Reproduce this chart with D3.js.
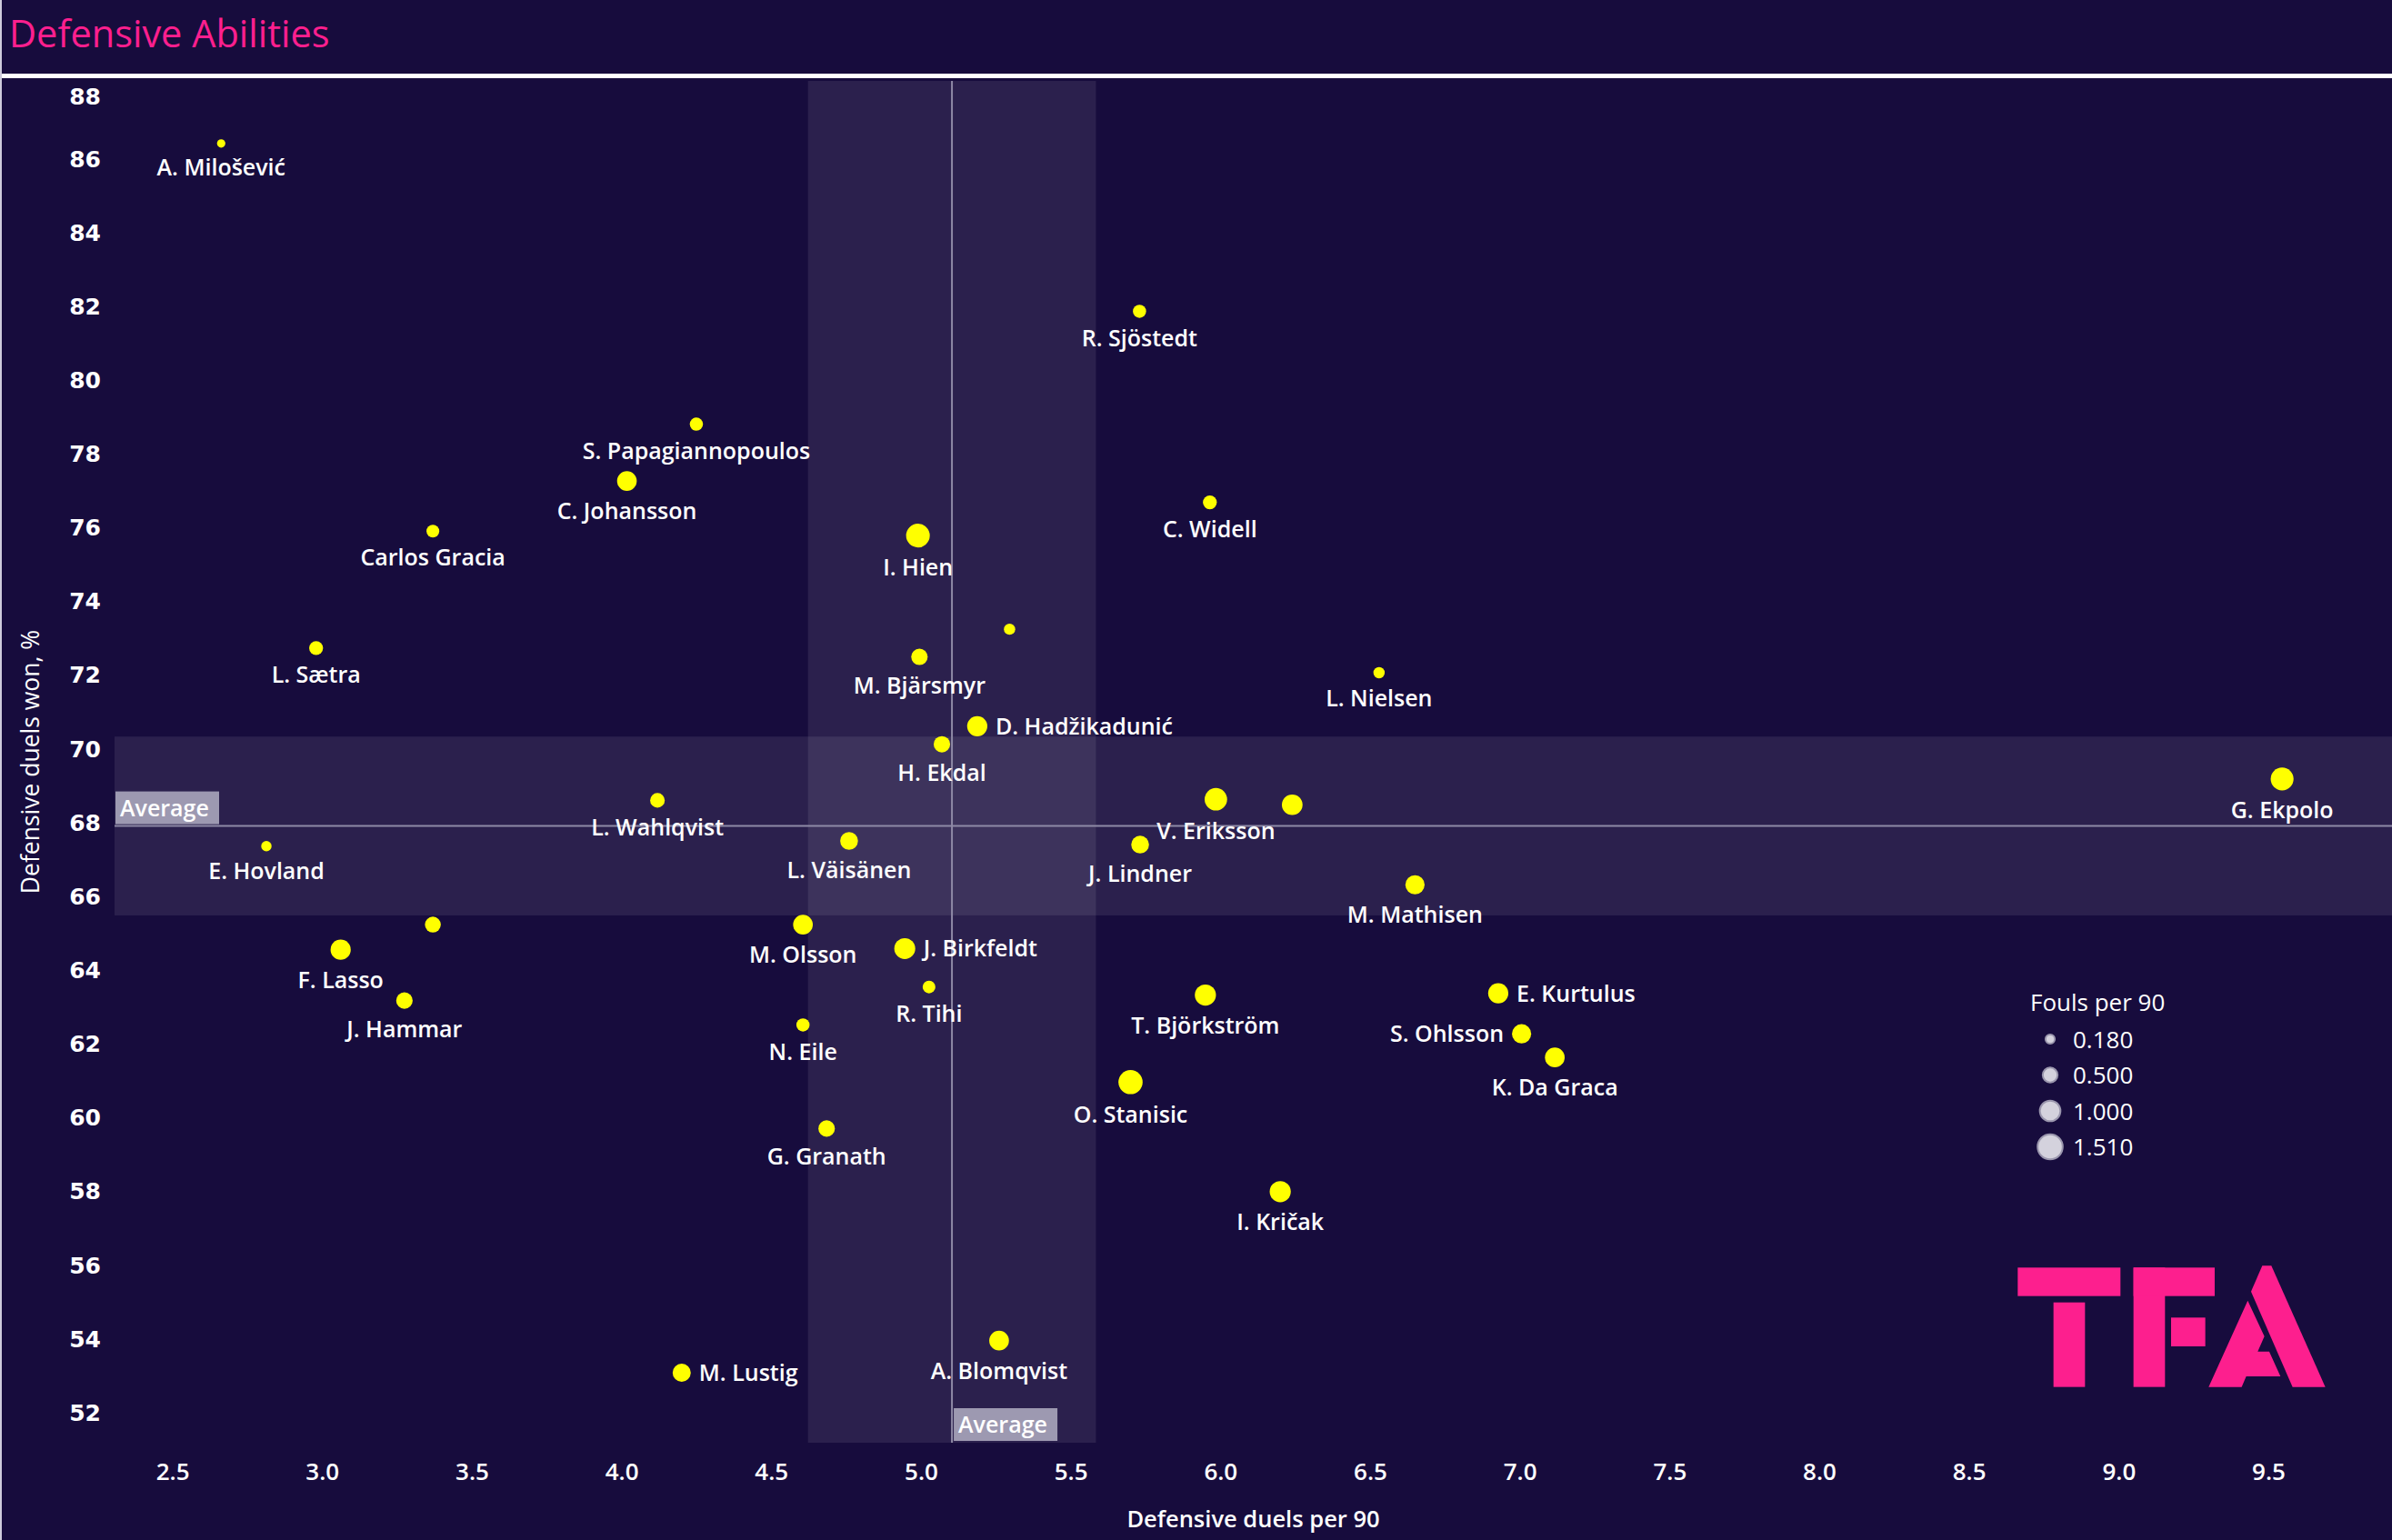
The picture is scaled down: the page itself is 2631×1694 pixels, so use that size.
<!DOCTYPE html>
<html>
<head>
<meta charset="utf-8">
<script src="https://cdn.jsdelivr.net/npm/d3@7"></script>
<style>
  html, body { margin: 0; padding: 0; background: #170c3d; }
  svg { display: block; }
</style>
</head>
<body>
<svg id="chart" width="2631" height="1694"></svg>
<script>
// ---------- DATA ----------
const players = [
  "A. Milošević", "R. Sjöstedt", "S. Papagiannopoulos", "C. Johansson", "Carlos Gracia",
  "I. Hien", "C. Widell", "", "L. Sætra", "M. Bjärsmyr",
  "L. Nielsen", "D. Hadžikadunić", "H. Ekdal", "G. Ekpolo", "L. Wahlqvist",
  "V. Eriksson", "", "E. Hovland", "L. Väisänen", "J. Lindner",
  "M. Mathisen", "F. Lasso", "J. Hammar", "", "M. Olsson",
  "J. Birkfeldt", "R. Tihi", "N. Eile", "T. Björkström", "E. Kurtulus",
  "S. Ohlsson", "K. Da Graca", "O. Stanisic", "G. Granath", "I. Kričak",
  "A. Blomqvist", "M. Lustig"
];
const duelsPer90 = [
  2.663, 5.730, 4.250, 4.018, 3.370,
  4.990, 5.965, 5.296, 2.980, 4.995,
  6.530, 5.188, 5.070, 9.546, 4.120,
  5.985, 6.240, 2.814, 4.760, 5.732,
  6.650, 3.062, 3.275, 3.370, 4.606,
  4.946, 5.027, 4.606, 5.950, 6.928,
  7.006, 7.117, 5.700, 4.685, 6.200,
  5.261, 4.201
];
const duelsWonPct = [
  86.41, 81.86, 78.80, 77.26, 75.90,
  75.78, 76.68, 73.24, 72.73, 72.49,
  72.06, 70.61, 70.12, 69.18, 68.60,
  68.63, 68.48, 67.36, 67.50, 67.40,
  66.31, 64.55, 63.17, 65.23, 65.23,
  64.58, 63.54, 62.51, 63.32, 63.37,
  62.27, 61.63, 60.96, 59.70, 57.99,
  53.95, 53.08
];
const foulsPer90 = [
  0.18, 0.45, 0.45, 1.00, 0.42,
  1.45, 0.50, 0.33, 0.50, 0.70,
  0.33, 1.05, 0.70, 1.35, 0.55,
  1.30, 1.10, 0.28, 0.82, 0.82,
  0.95, 1.05, 0.70, 0.65, 1.00,
  1.13, 0.42, 0.45, 1.15, 1.05,
  0.95, 1.00, 1.51, 0.70, 1.15,
  1.00, 0.85
];
const xTicks = [2.5, 3.0, 3.5, 4.0, 4.5, 5.0, 5.5, 6.0, 6.5, 7.0, 7.5, 8.0, 8.5, 9.0, 9.5];
const yTicks = [52, 54, 56, 58, 60, 62, 64, 66, 68, 70, 72, 74, 76, 78, 80, 82, 84, 86, 88];
const legendValues = [0.180, 0.500, 1.000, 1.510];
const labelsRight = ["D. Hadžikadunić", "J. Birkfeldt", "E. Kurtulus", "M. Lustig"];
const labelsLeft = ["S. Ohlsson"];
const tValue95 = 2.028; // t(0.975, n-1 = 36) for the mean's confidence band

const titleText = "Defensive Abilities";
const xTitle = "Defensive duels per 90";
const yTitle = "Defensive duels won, %";
const legendTitle = "Fouls per 90";

// ---------- LAYOUT ----------
const W = 2631, H = 1694;
const plot = { left: 126, right: 2631, top: 89, bottom: 1587 };
const BG = "#170c3d";
const PINK = "#fd1f8e";

const svg = d3.select("#chart");
svg.append("rect").attr("width", W).attr("height", H).attr("fill", BG);

// header
svg.append("text")
  .attr("x", 10).attr("y", 52)
  .attr("font-family", "'Open Sans', sans-serif")
  .attr("font-size", 41.5).attr("font-weight", 400)
  .attr("fill", PINK)
  .text(titleText);
svg.append("rect").attr("x", 0).attr("y", 81).attr("width", W).attr("height", 5).attr("fill", "#ffffff");
svg.append("rect").attr("x", 0).attr("y", 0).attr("width", 2).attr("height", H).attr("fill", "#cfcbdc");

// scales
const x = d3.scaleLinear().domain([2.5, 9.5]).range([189.6, 2495]);
const y = d3.scaleLinear().domain([52, 86]).range([1553.8, 174.5]);
const r = d3.scaleSqrt().domain([0, 1.51]).range([0, 13.3]);

const data = players.map((p, i) => ({ name: p, dx: duelsPer90[i], dy: duelsWonPct[i], f: foulsPer90[i] }));

// averages and 95% confidence bands
const n = data.length;
const mx = d3.mean(duelsPer90), my = d3.mean(duelsWonPct);
const hx = tValue95 * d3.deviation(duelsPer90) / Math.sqrt(n);
const hy = tValue95 * d3.deviation(duelsWonPct) / Math.sqrt(n);

const bands = svg.append("g");
bands.append("rect")
  .attr("x", x(mx - hx)).attr("y", plot.top)
  .attr("width", x(mx + hx) - x(mx - hx)).attr("height", plot.bottom - plot.top)
  .attr("fill", "#ffffff").attr("fill-opacity", 0.086);
bands.append("rect")
  .attr("x", plot.left).attr("y", y(my + hy))
  .attr("width", plot.right - plot.left).attr("height", y(my - hy) - y(my + hy))
  .attr("fill", "#ffffff").attr("fill-opacity", 0.086);

// average lines
const lineColor = "#8e89a6";
svg.append("line")
  .attr("x1", x(mx)).attr("x2", x(mx)).attr("y1", plot.top).attr("y2", plot.bottom)
  .attr("stroke", lineColor).attr("stroke-width", 2);
svg.append("line")
  .attr("x1", plot.left).attr("x2", plot.right).attr("y1", y(my)).attr("y2", y(my))
  .attr("stroke", lineColor).attr("stroke-width", 2);

// average tags
function avgTag(tx, ty) {
  const g = svg.append("g").attr("transform", `translate(${tx},${ty})`);
  g.append("rect").attr("width", 114).attr("height", 36).attr("fill", "#9d99b1");
  g.append("text").attr("x", 5).attr("y", 27)
    .attr("font-family", "'Open Sans', sans-serif").attr("font-size", 25).attr("font-weight", 600)
    .attr("fill", "#ffffff").text("Average");
}
avgTag(plot.left + 1, y(my) - 38);
avgTag(x(mx) + 2, plot.bottom - 38);

// axes
const yAxis = d3.axisLeft(y).tickValues(yTicks).tickSize(0).tickPadding(0).tickFormat(d3.format("d"));
const gy = svg.append("g").attr("transform", "translate(111,0)").call(yAxis);
gy.select(".domain").remove();
// keep the top label inside the pane, as the original does
gy.selectAll(".tick").attr("transform", d => `translate(0,${Math.max(y(d), plot.top + 17)})`);
gy.selectAll("text")
  .attr("font-family", "'DejaVu Sans', sans-serif").attr("font-weight", 700).attr("font-size", 25)
  .attr("fill", "#ffffff").attr("dy", "0.36em");

const xAxis = d3.axisBottom(x).tickValues(xTicks).tickSize(0).tickPadding(0).tickFormat(d3.format(".1f"));
const gx = svg.append("g").attr("transform", "translate(0,1610)").call(xAxis);
gx.select(".domain").remove();
gx.selectAll("text")
  .attr("font-family", "'Open Sans', sans-serif").attr("font-weight", 600).attr("font-size", 26)
  .attr("fill", "#ffffff").attr("dy", "0.71em");

// axis titles
svg.append("text")
  .attr("x", (plot.left + plot.right) / 2).attr("y", 1680)
  .attr("text-anchor", "middle")
  .attr("font-family", "'Open Sans', sans-serif").attr("font-weight", 600).attr("font-size", 25.5)
  .attr("fill", "#ffffff").text(xTitle);
svg.append("text")
  .attr("transform", `translate(43,${(plot.top + plot.bottom) / 2}) rotate(-90)`)
  .attr("text-anchor", "middle")
  .attr("font-family", "'Open Sans', sans-serif").attr("font-weight", 400).attr("font-size", 26.5)
  .attr("fill", "#ffffff").text(yTitle);

// points
const pts = svg.append("g");
pts.selectAll("circle").data(data).join("circle")
  .attr("cx", d => x(d.dx)).attr("cy", d => y(d.dy)).attr("r", d => r(d.f))
  .attr("fill", "#ffff00");

// labels
const labFont = { family: "'Open Sans', sans-serif", size: 25, weight: 600 };
pts.selectAll("text").data(data.filter(d => d.name !== "")).join("text")
  .attr("font-family", labFont.family).attr("font-size", labFont.size).attr("font-weight", labFont.weight)
  .attr("fill", "#ffffff")
  .attr("text-anchor", d => labelsRight.includes(d.name) ? "start" : labelsLeft.includes(d.name) ? "end" : "middle")
  .attr("x", d => {
    if (labelsRight.includes(d.name)) return x(d.dx) + r(d.f) + 9;
    if (labelsLeft.includes(d.name)) return x(d.dx) - r(d.f) - 9;
    return x(d.dx);
  })
  .attr("y", d => (labelsRight.includes(d.name) || labelsLeft.includes(d.name)) ? y(d.dy) + 9 : y(d.dy) + r(d.f) + 31)
  .text(d => d.name);

// legend
const lg = svg.append("g").attr("transform", "translate(2233,1112)");
lg.append("text").attr("x", 0).attr("y", 0)
  .attr("font-family", "'Open Sans', sans-serif").attr("font-weight", 500).attr("font-size", 26)
  .attr("fill", "#ffffff").text(legendTitle);
const items = lg.selectAll("g.item").data(legendValues).join("g").attr("class", "item")
  .attr("transform", (d, i) => `translate(22,${31 + i * 39.5})`);
items.append("circle").attr("r", d => r(d) + 0.5).attr("fill", "#d4d2dd").attr("stroke", "#9b97ae").attr("stroke-width", 2);
items.append("text").attr("x", 25).attr("y", 9.5)
  .attr("font-family", "'Open Sans', sans-serif").attr("font-weight", 500).attr("font-size", 26)
  .attr("fill", "#ffffff").text(d => d3.format(".3f")(d));

// TFA logo
const logo = svg.append("g").attr("transform", "translate(2180,1360) scale(0.3333)").attr("fill", PINK);
logo.append("rect").attr("x", 118).attr("y", 103).attr("width", 339).attr("height", 94);
logo.append("rect").attr("x", 236).attr("y", 218).attr("width", 104).attr("height", 279);
logo.append("rect").attr("x", 500).attr("y", 103).attr("width", 104).attr("height", 394);
logo.append("rect").attr("x", 500).attr("y", 103).attr("width", 268).attr("height", 94);
logo.append("rect").attr("x", 624).attr("y", 268).attr("width", 113).attr("height", 95);
logo.append("path").attr("d", "M888,182 L925,97 L955,97 L1133,497 L1025,497 Z");
logo.append("path").attr("d", "M877,212 L932,330 L910,380 L948,380 L985,462 L872,462 L857,497 L748,497 Z");
</script>
</body>
</html>
